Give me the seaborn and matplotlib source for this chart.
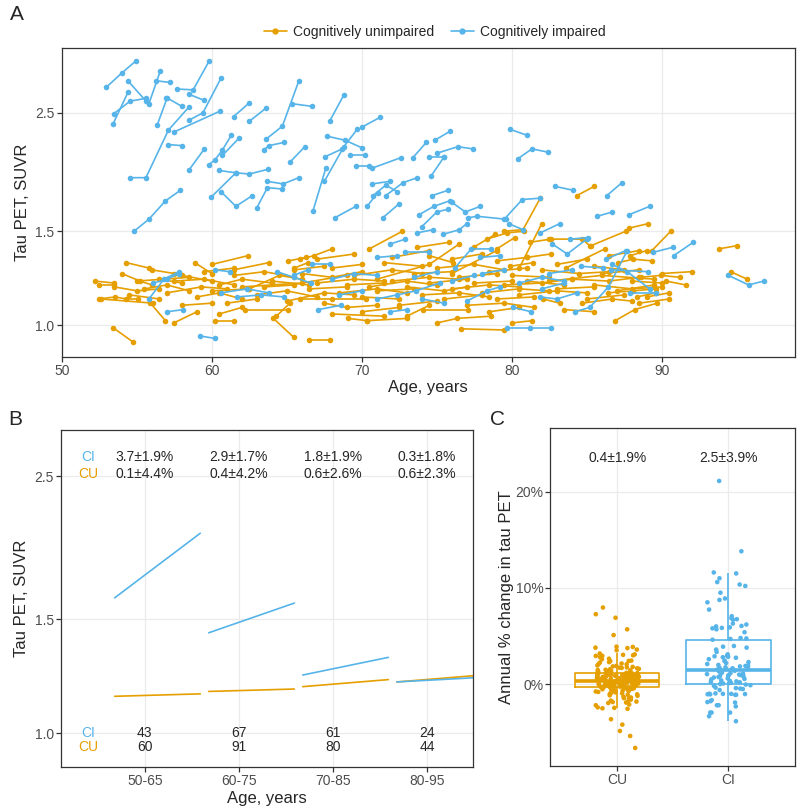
import numpy as np
import pandas as pd
import seaborn as sns
import matplotlib.pyplot as plt
from matplotlib.lines import Line2D
from matplotlib.ticker import FuncFormatter, NullLocator

CU_COL = '#E69F00'
CI_COL = '#56B4E9'

# ---- panel A: longitudinal tau PET, one list of (age, SUVR) per participant
ci_traj = [
    [(52.95, 2.79), (54.0, 2.97), (54.95, 3.13)],
    [(54.4, 2.87), (55.6, 2.63)],
    [(53.45, 2.49), (54.55, 2.63), (55.6, 2.66)],
    [(53.4, 2.38), (54.4, 2.73)],
    [(56.3, 2.87), (57.2, 2.85)],
    [(55.8, 2.60), (56.55, 2.99)],
    [(57.7, 2.77), (58.75, 2.76), (59.8, 3.12)],
    [(58.45, 2.71), (59.45, 2.64)],
    [(56.97, 2.67), (58.0, 2.57)],
    [(56.35, 2.37), (57.0, 2.66)],
    [(54.57, 1.89), (55.6, 1.89), (57.1, 2.32), (58.45, 2.56)],
    [(57.45, 2.30), (60.57, 2.52)],
    [(58.45, 2.42), (59.4, 2.50), (60.6, 2.90)],
    [(57.1, 2.18), (58.0, 2.17)],
    [(54.8, 1.50), (55.8, 1.58), (56.9, 1.71), (57.9, 1.79)],
    [(58.45, 1.95), (59.5, 2.14)],
    [(59.8, 2.00), (60.2, 2.04), (60.7, 2.13), (61.3, 2.27)],
    [(60.7, 2.08), (61.8, 2.24)],
    [(61.45, 2.46), (62.5, 2.61)],
    [(62.5, 2.41), (63.6, 2.55)],
    [(60.45, 1.95), (61.6, 1.93), (62.5, 1.92), (63.75, 1.96)],
    [(59.97, 1.74), (61.6, 1.93)],
    [(60.6, 1.78), (61.6, 1.67), (62.7, 1.75)],
    [(63.0, 1.66), (63.7, 1.81), (64.7, 1.80)],
    [(63.7, 1.86), (64.75, 1.84), (65.8, 1.89)],
    [(63.6, 2.23), (64.7, 2.36), (65.8, 2.87)],
    [(63.45, 2.13), (63.8, 2.17), (64.8, 2.20)],
    [(65.2, 2.02), (66.2, 2.16)],
    [(65.35, 2.60), (66.7, 2.57)],
    [(67.85, 2.41), (68.8, 2.70)],
    [(67.7, 2.26), (68.9, 2.22), (70.0, 2.15)],
    [(67.57, 2.07), (68.7, 2.14)],
    [(67.5, 1.86), (68.8, 2.16), (69.7, 2.33)],
    [(70.0, 2.35), (71.2, 2.45)],
    [(66.75, 1.64), (67.6, 1.97)],
    [(69.2, 2.08), (70.2, 2.08)],
    [(69.6, 1.99), (70.5, 1.99)],
    [(70.7, 1.97), (72.6, 2.06)],
    [(68.2, 1.59), (69.6, 1.67)],
    [(70.7, 1.84), (71.85, 1.86)],
    [(70.75, 1.75), (71.6, 1.83), (72.35, 1.78)],
    [(71.6, 1.75), (72.75, 1.85), (73.7, 1.89)],
    [(70.35, 1.67), (71.05, 1.77)],
    [(71.4, 1.59), (72.5, 1.69)],
    [(73.4, 2.06), (74.3, 2.20)],
    [(74.85, 2.22), (75.9, 2.31)],
    [(74.5, 2.07), (75.5, 2.07)],
    [(75.0, 2.10), (76.4, 2.16), (77.4, 2.14)],
    [(74.6, 1.90), (75.5, 2.07)],
    [(74.7, 1.75), (75.75, 1.79)],
    [(73.8, 1.61), (74.8, 1.67), (75.85, 1.71)],
    [(76.0, 1.70), (76.9, 1.63), (77.9, 1.67)],
    [(74.0, 1.53), (75.0, 1.63), (75.75, 1.65)],
    [(73.7, 1.49), (74.75, 1.51)],
    [(71.9, 1.42), (72.9, 1.45)],
    [(77.1, 1.59), (77.7, 1.60), (79.6, 1.58)],
    [(75.4, 1.48), (76.5, 1.51), (77.0, 1.55)],
    [(79.5, 1.58), (80.7, 1.72), (81.9, 1.73)],
    [(79.8, 1.55), (80.75, 1.51)],
    [(79.85, 2.33), (81.0, 2.27)],
    [(80.4, 2.05), (81.35, 2.14), (82.4, 2.11)],
    [(82.9, 1.82), (84.1, 1.79)],
    [(86.35, 1.75), (87.35, 1.85)],
    [(85.7, 1.60), (86.7, 1.63)],
    [(87.8, 1.61), (89.2, 1.67)],
    [(81.9, 1.49), (83.2, 1.55)],
    [(90.8, 1.35), (92.1, 1.43)],
    [(89.45, 1.37), (90.75, 1.40)],
    [(83.9, 1.45), (85.1, 1.46)],
    [(94.45, 1.24), (95.8, 1.19), (96.8, 1.21)],
    [(84.2, 1.06), (85.2, 1.08), (86.45, 1.18), (87.7, 1.38)],
    [(86.3, 1.33), (87.6, 1.38)],
    [(82.7, 1.42), (83.7, 1.36), (85.0, 1.45)],
    [(84.6, 1.29), (86.1, 1.28)],
    [(86.7, 1.30), (87.7, 1.26), (89.2, 1.17)],
    [(87.9, 1.15), (89.6, 1.15)],
    [(86.6, 1.27), (89.1, 1.26)],
    [(81.9, 1.13), (83.0, 1.12), (84.35, 1.15)],
    [(79.7, 0.99), (81.2, 0.99), (82.6, 0.99)],
    [(71.0, 1.34), (72.35, 1.35)],
    [(72.9, 1.37), (74.45, 1.37)],
    [(66.7, 1.30), (67.9, 1.30)],
    [(76.2, 1.28), (77.3, 1.39), (78.6, 1.39)],
    [(77.9, 1.34), (79.2, 1.35)],
    [(80.1, 1.08), (81.3, 1.06)],
    [(67.1, 1.07), (68.6, 1.09)],
    [(71.9, 1.06), (73.0, 1.07)],
    [(77.0, 1.11), (78.35, 1.16), (79.2, 1.18)],
    [(71.0, 1.12), (72.35, 1.14), (73.6, 1.16), (75.2, 1.20)],
    [(55.8, 1.12), (56.8, 1.22), (57.8, 1.26)],
    [(56.1, 1.20), (57.0, 1.22), (57.8, 1.25)],
    [(57.0, 1.06), (58.1, 1.07)],
    [(59.2, 0.955), (60.2, 0.945)],
    [(60.2, 1.27), (61.2, 1.26)],
    [(60.6, 1.15), (62.35, 1.17), (63.8, 1.15)],
    [(61.65, 1.13), (63.3, 1.14), (64.8, 1.13)],
    [(64.35, 1.26), (65.45, 1.23), (66.6, 1.20)],
    [(65.45, 1.24), (66.4, 1.27)],
    [(68.0, 1.22), (69.5, 1.25), (71.0, 1.24)],
    [(73.5, 1.23), (75.0, 1.26)],
    [(76.0, 1.21), (77.5, 1.24)],
    [(80.5, 1.20), (82.0, 1.23), (83.5, 1.21)],
    [(78.0, 1.25), (79.5, 1.27)],
    [(82.5, 1.25), (84.0, 1.27)],
    [(68.5, 1.14), (70.0, 1.16)],
    [(74.0, 1.12), (75.5, 1.10)],
    [(82.0, 1.17), (83.5, 1.20)],
]

cu_traj = [
    [(52.2, 1.21), (53.45, 1.20)],
    [(52.45, 1.19), (53.45, 1.19)],
    [(52.45, 1.12), (53.55, 1.13), (54.3, 1.12), (55.1, 1.12)],
    [(53.4, 0.99), (54.75, 0.93)],
    [(54.3, 1.31), (55.8, 1.28)],
    [(54.0, 1.25), (55.2, 1.21), (56.0, 1.19)],
    [(55.9, 1.10), (56.9, 1.02)],
    [(57.45, 1.01), (59.0, 1.06)],
    [(58.85, 1.31), (60.0, 1.25)],
    [(60.0, 1.30), (62.4, 1.35)],
    [(60.2, 1.02), (61.5, 1.02)],
    [(61.45, 1.27), (63.8, 1.31)],
    [(64.1, 1.03), (65.45, 0.95)],
    [(64.3, 1.04), (65.2, 1.10)],
    [(65.1, 1.32), (66.3, 1.34)],
    [(65.5, 1.28), (66.4, 1.31)],
    [(62.2, 1.07), (65.1, 1.07)],
    [(52.6, 1.12), (56.1, 1.10)],
    [(66.45, 0.94), (67.85, 0.94)],
    [(65.9, 1.33), (66.8, 1.35), (68.0, 1.39)],
    [(70.5, 1.39), (72.7, 1.50)],
    [(73.7, 1.40), (75.8, 1.43)],
    [(77.45, 1.40), (78.9, 1.48)],
    [(79.45, 1.50), (80.75, 1.51), (81.9, 1.73)],
    [(79.0, 1.39), (80.2, 1.46)],
    [(81.2, 1.43), (82.6, 1.45)],
    [(84.35, 1.75), (85.5, 1.82)],
    [(82.5, 1.45), (84.7, 1.45), (85.2, 1.41)],
    [(85.3, 1.41), (87.6, 1.50)],
    [(87.8, 1.52), (89.1, 1.55)],
    [(89.35, 1.38), (90.6, 1.50)],
    [(93.8, 1.39), (95.05, 1.41)],
    [(94.6, 1.26), (95.7, 1.22)],
    [(90.3, 1.21), (91.6, 1.19)],
    [(88.6, 1.23), (89.95, 1.24), (91.2, 1.23)],
    [(86.9, 1.02), (88.2, 1.07), (89.7, 1.10)],
    [(88.35, 1.13), (89.6, 1.15)],
    [(83.6, 1.28), (86.2, 1.39)],
    [(87.1, 1.31), (88.1, 1.33), (89.35, 1.32)],
    [(87.9, 1.35), (89.0, 1.38)],
    [(82.1, 1.12), (83.2, 1.10)],
    [(84.7, 1.10), (86.7, 1.12), (88.0, 1.11)],
    [(86.4, 1.15), (88.1, 1.16), (89.6, 1.17)],
    [(76.6, 0.985), (79.45, 0.98)],
    [(75.0, 1.01), (76.35, 1.03), (78.6, 1.04)],
    [(80.0, 1.01), (81.35, 1.02)],
    [(74.1, 1.07), (77.1, 1.07)],
    [(70.35, 1.02), (73.0, 1.03)],
    [(65.9, 1.12), (68.0, 1.12), (70.3, 1.12)],
    [(69.1, 1.03), (70.35, 1.02)],
    [(78.35, 1.45), (79.7, 1.49), (80.8, 1.50)],
    [(81.0, 1.34), (82.6, 1.36)],
    [(79.9, 1.29), (81.45, 1.31)],
    [(74.5, 1.35), (76.1, 1.31)],
    [(55.5, 1.17), (57.0, 1.19), (58.5, 1.16)],
    [(56.5, 1.22), (58.0, 1.20)],
    [(57.0, 1.15), (59.3, 1.18), (61.0, 1.17)],
    [(58.0, 1.24), (60.0, 1.21)],
    [(59.0, 1.13), (60.5, 1.15), (62.0, 1.12)],
    [(60.5, 1.19), (62.0, 1.22), (64.0, 1.20)],
    [(61.0, 1.10), (63.0, 1.12)],
    [(62.5, 1.17), (64.5, 1.24), (66.0, 1.22)],
    [(63.0, 1.14), (65.0, 1.16), (67.0, 1.13)],
    [(64.0, 1.21), (66.5, 1.19)],
    [(65.0, 1.11), (67.5, 1.15), (69.5, 1.14)],
    [(66.0, 1.25), (68.0, 1.23), (70.0, 1.26)],
    [(66.5, 1.17), (69.0, 1.18)],
    [(67.0, 1.20), (69.5, 1.22), (71.5, 1.21)],
    [(67.5, 1.10), (69.0, 1.08), (71.0, 1.09)],
    [(68.0, 1.28), (70.0, 1.30)],
    [(68.5, 1.15), (71.0, 1.17), (73.0, 1.15)],
    [(69.0, 1.19), (71.5, 1.20)],
    [(69.5, 1.24), (72.0, 1.27), (74.0, 1.25)],
    [(70.0, 1.13), (72.5, 1.12)],
    [(70.5, 1.18), (73.0, 1.21), (75.0, 1.19)],
    [(71.0, 1.16), (73.5, 1.17)],
    [(71.5, 1.31), (74.0, 1.29)],
    [(72.0, 1.21), (74.5, 1.23), (76.5, 1.22)],
    [(72.5, 1.09), (75.0, 1.11)],
    [(73.0, 1.18), (75.5, 1.16), (77.0, 1.18)],
    [(73.5, 1.25), (76.0, 1.26)],
    [(74.0, 1.14), (76.5, 1.15), (78.5, 1.13)],
    [(74.5, 1.20), (77.0, 1.22)],
    [(75.0, 1.28), (77.5, 1.30), (79.5, 1.27)],
    [(75.5, 1.12), (78.0, 1.14)],
    [(76.0, 1.17), (78.5, 1.19), (80.5, 1.18)],
    [(76.5, 1.23), (79.0, 1.25)],
    [(77.0, 1.09), (79.5, 1.10), (81.5, 1.08)],
    [(77.5, 1.20), (80.0, 1.21)],
    [(78.0, 1.15), (80.5, 1.17), (82.5, 1.16)],
    [(78.5, 1.26), (81.0, 1.28)],
    [(79.0, 1.12), (81.5, 1.13)],
    [(79.5, 1.19), (82.0, 1.20), (84.0, 1.22)],
    [(80.0, 1.24), (82.5, 1.23)],
    [(80.5, 1.14), (83.0, 1.16), (85.0, 1.15)],
    [(81.0, 1.21), (83.5, 1.19)],
    [(82.0, 1.27), (84.5, 1.25), (86.5, 1.26)],
    [(83.0, 1.17), (85.5, 1.18)],
    [(84.0, 1.22), (86.5, 1.21), (88.5, 1.23)],
    [(85.0, 1.12), (87.5, 1.14)],
    [(85.5, 1.19), (88.0, 1.17), (90.0, 1.18)],
    [(86.0, 1.25), (88.5, 1.27)],
    [(87.0, 1.16), (89.5, 1.19)],
    [(88.0, 1.21), (90.0, 1.20)],
    [(89.0, 1.13), (90.5, 1.15)],
    [(53.5, 1.18), (55.0, 1.16), (56.5, 1.17)],
    [(54.5, 1.14), (56.5, 1.12)],
    [(56.0, 1.27), (57.5, 1.25)],
    [(57.5, 1.21), (59.5, 1.22), (61.5, 1.19)],
    [(59.5, 1.26), (61.5, 1.28)],
    [(60.0, 1.16), (62.5, 1.17)],
    [(61.5, 1.24), (63.5, 1.26), (65.5, 1.23)],
    [(63.5, 1.18), (65.5, 1.19)],
    [(65.5, 1.27), (67.5, 1.29)],
    [(67.0, 1.33), (69.5, 1.36)],
    [(72.0, 1.34), (74.5, 1.38)],
    [(76.0, 1.33), (78.0, 1.36)],
    [(79.0, 1.32), (81.0, 1.34)],
    [(83.0, 1.30), (85.0, 1.33)],
    [(85.5, 1.29), (87.5, 1.27)],
    [(86.5, 1.35), (88.5, 1.38)],
    [(90.0, 1.25), (92.0, 1.26)],
    [(70.0, 1.06), (72.5, 1.08)],
    [(78.5, 1.06), (80.5, 1.08)],
    [(83.5, 1.07), (85.5, 1.06)],
    [(60.5, 1.05), (62.0, 1.08)],
    [(58.0, 1.09), (60.0, 1.10)],
    [(71.0, 1.22), (74.5, 1.30), (76.5, 1.42)],
    [(76.0, 1.25), (79.0, 1.38)],
    [(80.5, 1.28), (82.0, 1.55)],
    [(62.0, 1.18), (66.0, 1.20), (69.0, 1.24)],
    [(55.0, 1.21), (58.5, 1.23)],
    [(68.0, 1.05), (71.5, 1.04)],
    [(73.0, 1.04), (74.5, 1.09)],
    [(82.5, 1.21), (86.0, 1.24), (89.5, 1.22)],
    [(88.5, 1.10), (90.5, 1.12)],
]

# ---- panel B: mean trajectories per age bin
age_bins = ['50-65', '60-75', '70-85', '80-95']
ci_start = [1.62, 1.43, 1.23, 1.20]
ci_end = [2.04, 1.59, 1.31, 1.22]
cu_start = [1.14, 1.16, 1.18, 1.20]
cu_end = [1.15, 1.17, 1.21, 1.23]
ci_rate = ['3.7±1.9%', '2.9±1.7%', '1.8±1.9%', '0.3±1.8%']
cu_rate = ['0.1±4.4%', '0.4±4.2%', '0.6±2.6%', '0.6±2.3%']
ci_n = [43, 67, 61, 24]
cu_n = [60, 91, 80, 44]

# ---- panel C: annual % change in tau PET
ci_change = [21.1, 13.8, 11.6, 11.0, 11.5, 10.6, 10.35, 10.2, 9.5, 8.75, 8.5, 8.9,
             7.75, 7.06, 6.75, 6.85, 6.7, 6.3, 6.2, 5.9, 5.4, 5.85, 5.8, 6.0, 6.05,
             5.7, 4.8, 4.75,
             4.7, 4.62, 3.97, 3.9, 3.8, 3.6, 3.35, 3.1, 2.85, 2.9, 2.8, 2.75, 2.95,
             2.6, 2.4, 2.45, 2.2, 2.1, 2.0, 2.3, 1.9, 1.95, 1.85, 1.76, 1.8, 1.7,
             1.65, 1.6, 1.58,
             1.52, 1.45, 1.4, 1.35, 1.25, 1.2, 1.22, 1.1, 1.15, 1.05, 1.0, 0.93,
             0.95, 0.88, 0.85, 0.8, 0.7, 0.75, 0.6, 0.55, 0.5, 0.4, 0.35, 0.3,
             0.25, 0.2, 0.15, 0.12, 0.08,
             0.02, -0.03, -0.1, -0.17, -0.35, -0.4, -0.45, -0.5, -0.6, -0.95,
             -0.98, -1.0, -1.0, -1.02, -1.04, -1.05, -1.1, -1.1, -1.65, -1.76,
             -1.85, -1.9, -2.18, -2.18, -2.3, -2.94, -2.94, -2.94, -3.32, -3.84]
cu_change = [7.96, 7.27, 6.9, 5.7, 5.1, 3.9, 3.8, 3.53, 3.6, 3.87, 3.75, 3.19, 3.1,
             3.0, 2.95, 3.05, 2.94, 2.8, 2.65, 2.6, 2.42, 2.45, 2.4, 2.3, 2.25, 2.1,
             2.07, 2.15, 1.95, 1.9, 1.85, 1.8, 1.75, 1.7, 1.72, 1.65, 1.6, 1.55,
             1.5, 1.45, 1.47, 1.4, 1.38, 1.35, 1.3, 1.28, 1.25,
             -6.61, -5.37, -4.85, -4.19, -3.63, -2.5, -2.45, -2.55, -2.4, -2.18,
             -2.1, -1.95, -1.9, -1.84, -1.8, -1.85, -1.7, -1.6, -1.5, -1.45, -1.38,
             -1.3, -1.2, -1.15, -1.1, -1.05, -1.0, -0.95, -0.9, -0.85, -0.8, -0.75,
             -0.7, -0.68, -0.65, -0.6, -0.58, -0.55, -0.52, -0.5, -0.48, -0.45,
             -0.42, -0.4, -0.38, -0.35, -0.32,
             -0.28, -0.25, -0.22, -0.2, -0.18, -0.15, -0.12, -0.1, -0.08, -0.05,
             -0.03, 0.0, 0.02, 0.03, 0.05, 0.06, 0.08, 0.1, 0.11, 0.12, 0.14, 0.15,
             0.16, 0.18, 0.2, 0.21, 0.22, 0.23, 0.25, 0.26, 0.27, 0.28, 0.3, 0.31,
             0.32, 0.33, 0.34, -0.27, -0.24, -0.19, -0.14, -0.09, -0.02, 0.04,
             0.13, 0.24, 0.29,
             0.36, 0.38, 0.41, 0.42, 0.44, 0.47, 0.48, 0.51, 0.52, 0.55, 0.56, 0.58,
             0.61, 0.62, 0.64, 0.67, 0.68, 0.71, 0.72, 0.74, 0.77, 0.78, 0.81, 0.82,
             0.84, 0.87, 0.88, 0.91, 0.92, 0.94, 0.97, 0.98, 1.0, 1.02, 1.05, 1.06,
             1.08, 1.1, 1.13, 1.14, 1.16, 1.18, 0.45, 0.54, 0.65, 0.76, 0.86]
cu_summary = '0.4±1.9%'
ci_summary = '2.5±3.9%'

palette = {'CU': CU_COL, 'CI': CI_COL}

sns.set_style('white')
plt.rcParams['font.family'] = ['Liberation Sans', 'DejaVu Sans']


def style_ax(ax):
    for s in ax.spines.values():
        s.set_color('#333333')
        s.set_linewidth(0.9)
    ax.grid(True, color='#EBEBEB', linewidth=0.9)
    ax.set_axisbelow(True)
    ax.tick_params(length=3.5, width=0.9, color='#333333', labelcolor='#4D4D4D',
                   labelsize=10, pad=1.5, left=True, bottom=True)


fig = plt.figure(figsize=(8, 8.09), dpi=100)

# ---------------- panel A
rows = []
for grp, trajs in (('CU', cu_traj), ('CI', ci_traj)):
    for i, tr in enumerate(trajs):
        for age, suvr in tr:
            rows.append((grp + str(i), grp, age, suvr))
dfA = pd.DataFrame(rows, columns=['id', 'group', 'age', 'suvr'])

axA = fig.add_axes([0.0769, 0.559, 0.917, 0.382])
sns.lineplot(data=dfA, x='age', y='suvr', hue='group', units='id', estimator=None,
             hue_order=['CU', 'CI'], palette=palette, marker='o', markersize=4,
             markeredgewidth=0, linewidth=1.2, legend=False, ax=axA)
axA.set_yscale('log')
axA.set_xlim(49.97, 98.9)
axA.set_ylim(0.873, 3.31)
axA.set_yticks([1.0, 1.5, 2.5])
axA.set_yticklabels(['1.0', '1.5', '2.5'])
axA.yaxis.set_minor_locator(NullLocator())
axA.set_xticks([50, 60, 70, 80, 90])
style_ax(axA)
axA.set_xlabel('Age, years', fontsize=12, labelpad=2)
axA.set_ylabel('Tau PET, SUVR', fontsize=12, labelpad=4)

handles = [Line2D([], [], color=CU_COL, marker='o', markersize=3.5, lw=1.2),
           Line2D([], [], color=CI_COL, marker='o', markersize=3.5, lw=1.2)]
fig.legend(handles, ['Cognitively unimpaired', 'Cognitively impaired'],
           loc='center', bbox_to_anchor=(0.544, 0.96), ncol=2, frameon=False,
           fontsize=10, handlelength=1.6, columnspacing=1.2, handletextpad=0.5)

# ---------------- panel B
seg_lo, seg_hi = -0.32, 0.59
rowsB = []
for grp, st, en in (('CU', cu_start, cu_end), ('CI', ci_start, ci_end)):
    for i in range(len(age_bins)):
        rowsB.append((grp + str(i), grp, i + seg_lo, st[i]))
        rowsB.append((grp + str(i), grp, i + seg_hi, en[i]))
dfB = pd.DataFrame(rowsB, columns=['id', 'group', 'x', 'suvr'])

axB = fig.add_axes([0.0763, 0.052, 0.515, 0.4166])
sns.lineplot(data=dfB, x='x', y='suvr', hue='group', units='id', estimator=None,
             hue_order=['CU', 'CI'], palette=palette, linewidth=1.2, legend=False,
             ax=axB)
axB.set_yscale('log')
axB.set_xlim(-0.89, 3.49)
axB.set_ylim(0.886, 2.95)
axB.set_yticks([1.0, 1.5, 2.5])
axB.set_yticklabels(['1.0', '1.5', '2.5'])
axB.yaxis.set_minor_locator(NullLocator())
axB.set_xticks(range(len(age_bins)))
axB.set_xticklabels(age_bins)
style_ax(axB)
axB.set_xlabel('Age, years', fontsize=12, labelpad=2)
axB.set_ylabel('Tau PET, SUVR', fontsize=12, labelpad=4)

axB.text(-0.6, 2.68, 'CI', color=CI_COL, ha='center', va='center', fontsize=10)
axB.text(-0.6, 2.52, 'CU', color=CU_COL, ha='center', va='center', fontsize=10)
axB.text(-0.6, 1.0, 'CI', color=CI_COL, ha='center', va='center', fontsize=10)
axB.text(-0.6, 0.951, 'CU', color=CU_COL, ha='center', va='center', fontsize=10)
for i in range(len(age_bins)):
    axB.text(i, 2.68, ci_rate[i], ha='center', va='center', fontsize=10)
    axB.text(i, 2.52, cu_rate[i], ha='center', va='center', fontsize=10)
    axB.text(i, 1.0, str(ci_n[i]), ha='center', va='center', fontsize=10)
    axB.text(i, 0.951, str(cu_n[i]), ha='center', va='center', fontsize=10)

# ---------------- panel C
dfC = pd.DataFrame({'group': ['CU'] * len(cu_change) + ['CI'] * len(ci_change),
                    'change': cu_change + ci_change})
axC = fig.add_axes([0.688, 0.053, 0.306, 0.418])
sns.boxplot(data=dfC, x='group', y='change', hue='group', order=['CU', 'CI'],
            hue_order=['CU', 'CI'], palette=palette, fill=False, width=0.76,
            showfliers=False, showcaps=False, linewidth=1.2, legend=False,
            medianprops=dict(linewidth=2.6), ax=axC)
np.random.seed(11)
sns.stripplot(data=dfC, x='group', y='change', hue='group', order=['CU', 'CI'],
              hue_order=['CU', 'CI'], palette=palette, jitter=0.2, size=3.3,
              linewidth=0, legend=False, ax=axC)
axC.set_xlim(-0.6, 1.6)
axC.set_ylim(-8.5, 26.6)
axC.set_yticks([0, 10, 20])
axC.yaxis.set_major_formatter(FuncFormatter(lambda v, p: '{:.0f}%'.format(v)))
style_ax(axC)
axC.set_xlabel('')
axC.set_ylabel('Annual % change in tau PET', fontsize=12, labelpad=1)
axC.text(0, 23.5, cu_summary, ha='center', va='center', fontsize=10)
axC.text(1, 23.5, ci_summary, ha='center', va='center', fontsize=10)

# panel tags
fig.text(0.012, 0.982, 'A', fontsize=15, va='center')
fig.text(0.010, 0.482, 'B', fontsize=15, va='center')
fig.text(0.612, 0.482, 'C', fontsize=15, va='center')

fig.savefig('out.png', dpi=100)
